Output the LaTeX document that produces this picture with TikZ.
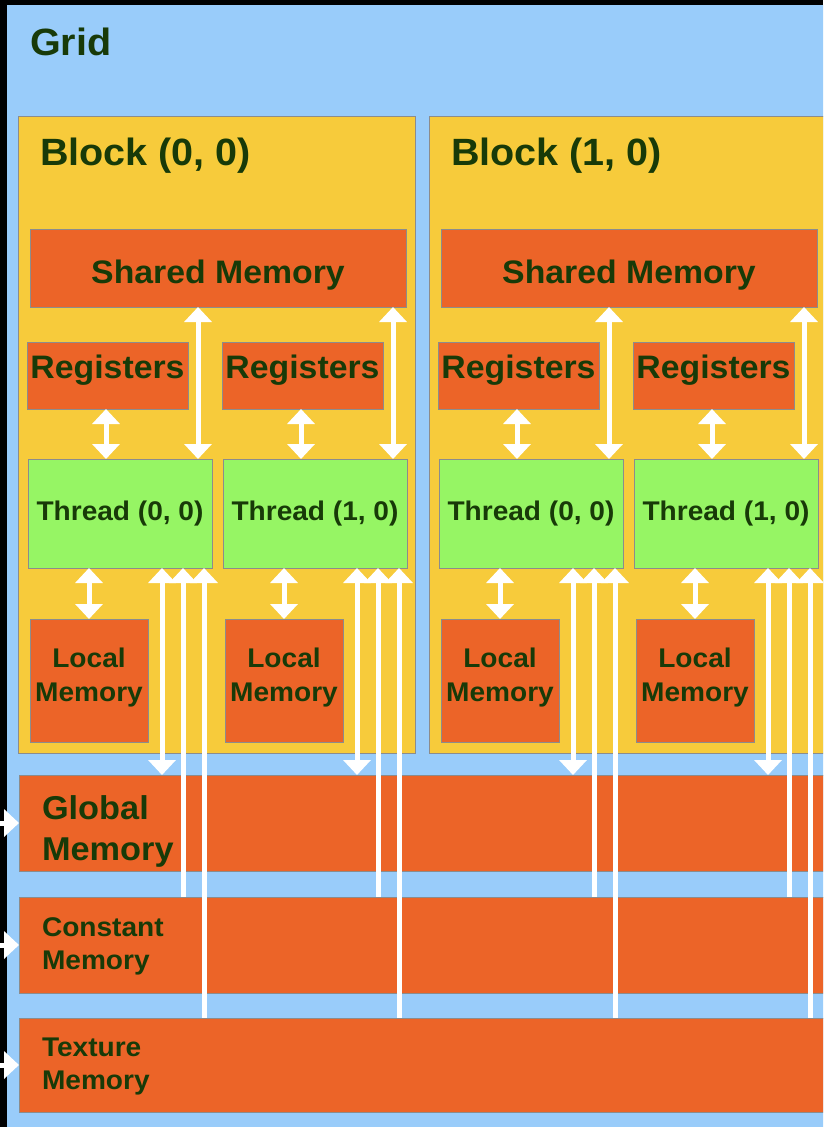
\documentclass[tikz,border=0pt]{standalone}
\usepackage{fontspec}
\setmainfont[FakeStretch=1.04]{Liberation Sans}
\usetikzlibrary{arrows.meta,calc}

\definecolor{gridblue}{RGB}{153,204,250}
\definecolor{blockyellow}{RGB}{247,203,59}
\definecolor{memorange}{RGB}{236,100,40}
\definecolor{threadgreen}{RGB}{150,245,100}
\definecolor{edgegray}{RGB}{140,140,140}
\definecolor{labelgreen}{RGB}{24,58,8}

\newcommand\fTitle{\fontsize{38}{38}\selectfont\bfseries}
\newcommand\fShared{\fontsize{32.5}{32.5}\selectfont\bfseries}
\newcommand\fThread{\fontsize{27}{27}\selectfont\bfseries}
\newcommand\fLocal{\fontsize{27}{34}\selectfont\bfseries}
\newcommand\fGlobal{\fontsize{33}{41}\selectfont\bfseries}
\newcommand\fSmallMem{\fontsize{27}{33}\selectfont\bfseries}

\begin{document}
\begin{tikzpicture}[x=1pt,y=-1pt,
  box/.style={draw=edgegray, line width=1pt, inner sep=0pt, outer sep=0pt, anchor=north west},
  blockbox/.style={box, fill=blockyellow},
  membox/.style={box, fill=memorange},
  threadbox/.style={box, fill=threadgreen},
  lbl/.style={text=labelgreen, inner sep=0pt, outer sep=0pt},
  >={Triangle[width=27pt,length=15pt]},
  dbl/.style={draw=white, line width=5pt, <->},
  sgl/.style={draw=white, line width=5pt, ->}]

\useasboundingbox (0,0) rectangle (823,1127);
\clip (0,0) rectangle (823,1127);

% host side and grid background
\fill[black] (0,0) rectangle (823,1127);
\fill[gridblue] (7,5) rectangle (840,1140);
\node[lbl, font=\fTitle, anchor=base west] (gridlbl) at (30,55) {Grid};

% device-wide memories
\node[membox, minimum width=830pt, minimum height=96pt] (gm) at (19,775) {};
\node[membox, minimum width=830pt, minimum height=96pt] (cm) at (19,897) {};
\node[membox, minimum width=830pt, minimum height=94pt] (tm) at (19,1018) {};
\node[lbl, font=\fGlobal, align=left, anchor=west] (gmlbl) at (42,831) {Global\\Memory};
\node[lbl, font=\fSmallMem, align=left, anchor=west] (cmlbl) at (42,946.5) {Constant\\Memory};
\node[lbl, font=\fSmallMem, align=left, anchor=west] (tmlbl) at (42,1066.5) {Texture\\Memory};

% blocks with their threads
\foreach \bk/\bx in {0/18, 1/429} {
  \node[blockbox, minimum width=397pt, minimum height=637pt] (blk\bk) at (\bx,116) {};
  \node[lbl, font=\fTitle, anchor=base west] (blklbl\bk) at ($(blk\bk.north west)+(22,49)$) {Block (\bk, 0)};
  \node[membox, minimum width=376pt, minimum height=78pt] (sh\bk) at (\bx+12,229) {};
  \node[lbl, font=\fShared, anchor=base] (shlbl\bk) at ($(sh\bk.north)+(0,54)$) {Shared Memory};
  \foreach \tk/\tx in {0/0, 1/195} {
    \node[membox, minimum width=161pt, minimum height=67pt] (reg\bk\tk) at (\bx+9+\tx,342) {};
    \node[lbl, font=\fShared, anchor=base] (reglbl\bk\tk) at ($(reg\bk\tk.north)+(0,36)$) {Registers};
    \node[threadbox, minimum width=184pt, minimum height=109pt] (th\bk\tk) at (\bx+10+\tx,459) {};
    \node[lbl, font=\fThread, anchor=base] (thlbl\bk\tk) at ($(th\bk\tk.north)+(0,61)$) {Thread (\tk, 0)};
    \node[membox, minimum width=118pt, minimum height=123pt] (lm\bk\tk) at (\bx+12+\tx,619) {};
    \node[lbl, font=\fLocal, align=center] (lmlbl\bk\tk) at ($(lm\bk\tk.north)+(0,59)$) {Local\\Memory};
  }
}

% access paths
\foreach \bk/\bx in {0/18, 1/429} {
  \foreach \tk/\tx in {0/0, 1/195} {
    \coordinate (ra\bk\tk) at (\bx+88+\tx,0);
    \coordinate (sa\bk\tk) at (\bx+180+\tx,0);
    \coordinate (la\bk\tk) at (\bx+71+\tx,0);
    \coordinate (ga\bk\tk) at (\bx+144+\tx,0);
    \coordinate (ca\bk\tk) at (\bx+165+\tx,0);
    \coordinate (ta\bk\tk) at (\bx+186+\tx,0);
    \draw[dbl] (reg\bk\tk.south -| ra\bk\tk) -- (th\bk\tk.north -| ra\bk\tk);
    \draw[dbl] (sh\bk.south -| sa\bk\tk) -- (th\bk\tk.north -| sa\bk\tk);
    \draw[dbl] (th\bk\tk.south -| la\bk\tk) -- (lm\bk\tk.north -| la\bk\tk);
    \draw[dbl] (th\bk\tk.south -| ga\bk\tk) -- (gm.north -| ga\bk\tk);
    \draw[sgl] (cm.north -| ca\bk\tk) -- (th\bk\tk.south -| ca\bk\tk);
    \draw[sgl] (tm.north -| ta\bk\tk) -- (th\bk\tk.south -| ta\bk\tk);
  }
}

% host writes into the device memories
\coordinate (host) at (-4,0);
\draw[sgl] (gm.west -| host) -- (gm.west);
\draw[sgl] (cm.west -| host) -- (cm.west);
\draw[sgl] (tm.west -| host) -- (tm.west);
\end{tikzpicture}
\end{document}
